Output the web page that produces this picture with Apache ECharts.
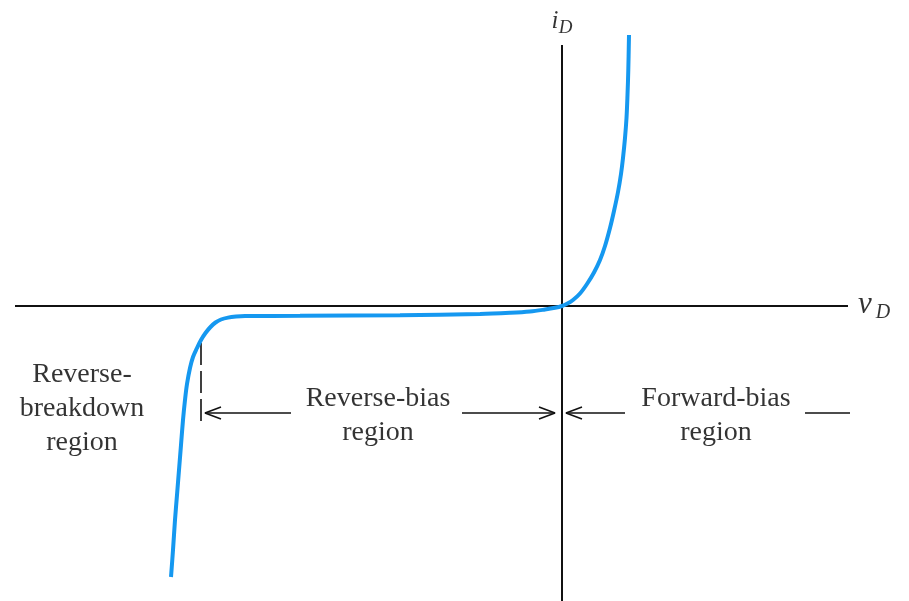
<!DOCTYPE html>
<html>
<head>
<meta charset="utf-8">
<script src="https://cdn.jsdelivr.net/npm/echarts@6/dist/echarts.min.js"></script>
<style>
  html, body { margin: 0; padding: 0; background: #fff; }
  #chart { width: 909px; height: 601px; }
</style>
</head>
<body>
<div id="chart"></div>
<script>
// diode i-v curve (arbitrary units)
const vD = [-7.82, -7.78, -7.74, -7.70, -7.66, -7.62, -7.58, -7.54, -7.50, -7.44,
            -7.38, -7.30, -7.22, -7.13, -7.03, -6.93, -6.82, -6.68, -6.52, -6.34,
            -5.24, -3.24, -1.64, -1.04, -0.64, -0.34, -0.14, 0,
            0.10, 0.22, 0.36, 0.50, 0.64, 0.76, 0.86, 0.96, 1.04, 1.12,
            1.18, 1.22, 1.26, 1.29, 1.31, 1.326, 1.34];
const iD = [-5.42, -4.88, -4.28, -3.78, -3.28, -2.78, -2.28, -1.88, -1.56, -1.24,
            -1.02, -0.84, -0.68, -0.54, -0.42, -0.33, -0.27, -0.232, -0.212, -0.202,
            -0.196, -0.184, -0.16, -0.136, -0.11, -0.07, -0.036, 0,
            0.044, 0.12, 0.25, 0.44, 0.67, 0.92, 1.20, 1.56, 1.90, 2.28,
            2.64, 2.96, 3.36, 3.76, 4.22, 4.72, 5.42];

// region boundaries and annotation text
const breakdownV = -7.22;
const regionNames = ['Reverse-\nbreakdown\nregion', 'Reverse-bias\nregion', 'Forward-bias\nregion'];

const serif = "'Liberation Serif', 'Times New Roman', serif";
const ink = '#000';

const curve = vD.map((v, i) => [v, iD[i]]);

function seg(points, extra) {
    return Object.assign({
        type: 'line',
        data: points,
        symbol: 'none',
        silent: true,
        animation: false,
        lineStyle: { color: '#111', width: 1.6 }
    }, extra || {});
}

function textPoint(x, y, text, style) {
    return {
        type: 'scatter',
        symbolSize: 0,
        silent: true,
        animation: false,
        data: [[x, y]],
        label: Object.assign({
            show: true,
            position: 'inside',
            formatter: text,
            color: ink,
            fontFamily: serif,
            fontSize: 28,
            lineHeight: 34,
            align: 'center',
            verticalAlign: 'middle'
        }, style || {})
    };
}

const arrowY = -2.14;

const option = {
    backgroundColor: '#fff',
    grid: { left: 0, right: 0, top: 0, bottom: 0 },
    xAxis: { type: 'value', min: -11.24, max: 6.94, show: false },
    yAxis: { type: 'value', min: -5.9, max: 6.12, show: false },
    series: [
        // axes
        seg([[-10.94, 0], [5.72, 0]], { lineStyle: { color: '#111', width: 2 } }),
        seg([[0, 5.22], [0, -5.9]], { lineStyle: { color: '#111', width: 2 } }),
        // breakdown marker
        seg([[breakdownV, -0.74], [breakdownV, -2.32]], { lineStyle: { color: '#111', width: 1.6, type: [22, 6] } }),
        // reverse-bias arrows
        seg([[-7.14, arrowY], [-5.42, arrowY]]),
        seg([[-6.82, arrowY + 0.12], [-7.14, arrowY], [-6.82, arrowY - 0.12]]),
        seg([[-2.0, arrowY], [-0.14, arrowY]]),
        seg([[-0.46, arrowY + 0.12], [-0.14, arrowY], [-0.46, arrowY - 0.12]]),
        // forward-bias arrows
        seg([[0.08, arrowY], [1.26, arrowY]]),
        seg([[0.40, arrowY + 0.12], [0.08, arrowY], [0.40, arrowY - 0.12]]),
        seg([[4.86, arrowY], [5.76, arrowY]]),
        // the curve
        {
            type: 'line',
            name: 'iD',
            data: curve,
            smooth: 0.35,
            symbol: 'none',
            silent: true,
            animation: false,
            lineStyle: { color: '#1598f0', width: 4 },
            z: 5
        },
        // text
        textPoint(-9.6, -2.06, regionNames[0]),
        textPoint(-3.68, -2.2, regionNames[1]),
        textPoint(3.08, -2.2, regionNames[2]),
        textPoint(-0.14, 5.7, 'i', { fontStyle: 'italic', fontSize: 25 }),
        textPoint(0.07, 5.56, 'D', { fontStyle: 'italic', fontSize: 19 }),
        textPoint(6.06, 0.02, 'v', { fontStyle: 'italic', fontSize: 31 }),
        textPoint(6.42, -0.14, 'D', { fontStyle: 'italic', fontSize: 20 })
    ]
};

const chart = echarts.init(document.getElementById('chart'));
chart.setOption(option);
</script>
</body>
</html>
